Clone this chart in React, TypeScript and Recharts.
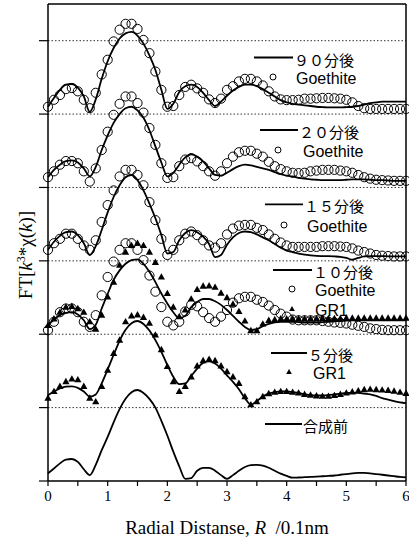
import React from "react";
import { ComposedChart, Line, XAxis, YAxis, ReferenceLine } from "recharts";

// radial distance grid, 0.1 step
const R = Array.from({ length: 61 }, (_, i) => Math.round(i) / 10);

// amplitudes above each curve's own baseline
const fit90 = [0.10, 0.22, 0.33, 0.40, 0.41, 0.36, 0.24, 0.03, 0.20, 0.48, 0.72, 0.90, 1.03, 1.10, 1.12, 1.07, 0.96, 0.80, 0.60, 0.33, 0.07, 0.14, 0.30, 0.38, 0.40, 0.37, 0.29, 0.19, 0.11, 0.17, 0.25, 0.32, 0.37, 0.40, 0.40, 0.38, 0.34, 0.29, 0.24, 0.19, 0.16, 0.14, 0.13, 0.12, 0.11, 0.10, 0.095, 0.09, 0.09, 0.09, 0.095, 0.10, 0.11, 0.13, 0.15, 0.16, 0.17, 0.17, 0.17, 0.17, 0.17];
const goe90 = [0.10, 0.195, 0.26, 0.34, 0.355, 0.31, 0.195, 0.08, 0.29, 0.54, 0.74, 0.99, 1.15, 1.23, 1.23, 1.16, 1.01, 0.83, 0.58, 0.33, 0.10, 0.11, 0.26, 0.37, 0.40, 0.35, 0.29, 0.20, 0.15, 0.21, 0.33, 0.38, 0.445, 0.48, 0.48, 0.445, 0.39, 0.31, 0.24, 0.20, 0.19, 0.19, 0.195, 0.21, 0.21, 0.215, 0.22, 0.22, 0.215, 0.21, 0.195, 0.16, 0.11, 0.08, 0.07, 0.07, 0.07, 0.07, 0.07, 0.07, 0.07];
const fit20 = [0.14, 0.24, 0.31, 0.36, 0.37, 0.34, 0.26, 0.15, 0.28, 0.51, 0.71, 0.88, 1.00, 1.08, 1.10, 1.05, 0.95, 0.78, 0.56, 0.34, 0.15, 0.20, 0.31, 0.41, 0.45, 0.42, 0.355, 0.26, 0.17, 0.16, 0.20, 0.25, 0.29, 0.31, 0.30, 0.28, 0.26, 0.24, 0.21, 0.18, 0.16, 0.15, 0.13, 0.12, 0.11, 0.105, 0.10, 0.10, 0.10, 0.10, 0.105, 0.11, 0.11, 0.11, 0.105, 0.10, 0.10, 0.095, 0.09, 0.09, 0.09];
const goe20 = [0.14, 0.22, 0.31, 0.36, 0.36, 0.33, 0.22, 0.08, 0.26, 0.51, 0.76, 0.99, 1.14, 1.24, 1.24, 1.15, 1.02, 0.81, 0.58, 0.33, 0.13, 0.14, 0.29, 0.38, 0.40, 0.355, 0.29, 0.22, 0.16, 0.22, 0.33, 0.42, 0.48, 0.50, 0.50, 0.46, 0.42, 0.35, 0.29, 0.25, 0.22, 0.20, 0.195, 0.20, 0.22, 0.23, 0.24, 0.24, 0.24, 0.23, 0.22, 0.20, 0.17, 0.14, 0.12, 0.105, 0.10, 0.095, 0.09, 0.09, 0.09];
const fit15 = [0.15, 0.26, 0.34, 0.39, 0.40, 0.35, 0.24, 0.08, 0.20, 0.42, 0.66, 0.87, 1.03, 1.14, 1.17, 1.10, 0.96, 0.78, 0.58, 0.35, 0.10, 0.12, 0.28, 0.38, 0.42, 0.39, 0.33, 0.23, 0.05, 0.08, 0.22, 0.32, 0.38, 0.40, 0.39, 0.36, 0.32, 0.28, 0.23, 0.18, 0.14, 0.12, 0.10, 0.085, 0.075, 0.068, 0.065, 0.063, 0.06, 0.055, 0.04, 0.015, 0.04, 0.06, 0.065, 0.065, 0.065, 0.062, 0.06, 0.06, 0.06];
const goe15 = [0.15, 0.24, 0.30, 0.37, 0.37, 0.30, 0.21, 0.15, 0.28, 0.53, 0.76, 0.96, 1.15, 1.24, 1.24, 1.17, 1.03, 0.80, 0.555, 0.30, 0.08, 0.15, 0.28, 0.37, 0.40, 0.35, 0.28, 0.21, 0.18, 0.24, 0.36, 0.44, 0.48, 0.49, 0.49, 0.45, 0.42, 0.36, 0.30, 0.25, 0.21, 0.19, 0.19, 0.19, 0.19, 0.19, 0.20, 0.20, 0.20, 0.195, 0.19, 0.17, 0.14, 0.12, 0.10, 0.08, 0.07, 0.065, 0.06, 0.06, 0.06];
const fit10 = [0.12, 0.20, 0.26, 0.29, 0.30, 0.27, 0.19, 0.07, 0.13, 0.35, 0.55, 0.74, 0.87, 0.96, 1.01, 1.02, 0.96, 0.85, 0.71, 0.555, 0.42, 0.30, 0.22, 0.25, 0.37, 0.44, 0.48, 0.48, 0.45, 0.40, 0.33, 0.25, 0.17, 0.10, 0.06, 0.07, 0.11, 0.14, 0.16, 0.17, 0.17, 0.17, 0.165, 0.16, 0.16, 0.16, 0.165, 0.17, 0.175, 0.18, 0.185, 0.19, 0.19, 0.19, 0.19, 0.19, 0.19, 0.19, 0.19, 0.19, 0.19];
const goe10 = [0.055, 0.17, 0.30, 0.35, 0.35, 0.30, 0.17, 0.10, 0.26, 0.53, 0.78, 0.99, 1.15, 1.24, 1.24, 1.15, 1.01, 0.80, 0.58, 0.37, 0.17, 0.12, 0.17, 0.31, 0.40, 0.38, 0.30, 0.22, 0.17, 0.24, 0.33, 0.43, 0.49, 0.51, 0.51, 0.47, 0.44, 0.39, 0.33, 0.28, 0.24, 0.20, 0.19, 0.19, 0.19, 0.19, 0.18, 0.17, 0.16, 0.155, 0.146, 0.13, 0.115, 0.10, 0.08, 0.07, 0.06, 0.055, 0.055, 0.055, 0.055];
const gr10 = [0.12, 0.21, 0.30, 0.37, 0.38, 0.35, 0.30, 0.17, 0.07, 0.26, 0.51, 0.71, 0.94, 1.12, 1.21, 1.24, 1.21, 1.12, 0.98, 0.78, 0.555, 0.37, 0.24, 0.33, 0.48, 0.61, 0.655, 0.66, 0.64, 0.56, 0.50, 0.41, 0.31, 0.18, 0.05, 0.05, 0.14, 0.19, 0.20, 0.21, 0.21, 0.21, 0.21, 0.21, 0.21, 0.21, 0.215, 0.215, 0.215, 0.215, 0.22, 0.22, 0.22, 0.22, 0.22, 0.22, 0.22, 0.22, 0.22, 0.22, 0.22];
const fit5 = [0.17, 0.22, 0.26, 0.285, 0.29, 0.27, 0.22, 0.15, 0.18, 0.33, 0.52, 0.72, 0.91, 1.06, 1.15, 1.18, 1.14, 1.05, 0.92, 0.76, 0.58, 0.42, 0.32, 0.33, 0.43, 0.53, 0.61, 0.63, 0.60, 0.53, 0.44, 0.35, 0.25, 0.13, 0.04, 0.09, 0.15, 0.19, 0.21, 0.22, 0.22, 0.21, 0.20, 0.18, 0.17, 0.165, 0.165, 0.17, 0.18, 0.19, 0.20, 0.20, 0.20, 0.19, 0.18, 0.16, 0.13, 0.11, 0.09, 0.07, 0.06];
const gr5 = [0.13, 0.22, 0.29, 0.355, 0.39, 0.38, 0.29, 0.13, 0.08, 0.29, 0.51, 0.74, 0.92, 1.17, 1.25, 1.265, 1.23, 1.15, 0.99, 0.79, 0.56, 0.355, 0.22, 0.29, 0.42, 0.57, 0.64, 0.66, 0.64, 0.57, 0.49, 0.42, 0.33, 0.15, 0.04, 0.08, 0.15, 0.19, 0.21, 0.22, 0.22, 0.21, 0.20, 0.18, 0.17, 0.16, 0.155, 0.155, 0.165, 0.18, 0.20, 0.215, 0.23, 0.245, 0.25, 0.245, 0.24, 0.235, 0.225, 0.21, 0.195];
const base = [0.105, 0.17, 0.24, 0.29, 0.30, 0.26, 0.16, 0.08, 0.22, 0.42, 0.60, 0.80, 0.98, 1.12, 1.21, 1.24, 1.20, 1.12, 1.00, 0.82, 0.62, 0.40, 0.20, 0.03, 0.04, 0.14, 0.18, 0.18, 0.14, 0.08, 0.03, 0.08, 0.14, 0.19, 0.215, 0.22, 0.21, 0.18, 0.14, 0.10, 0.07, 0.045, 0.048, 0.052, 0.056, 0.06, 0.065, 0.07, 0.075, 0.085, 0.095, 0.105, 0.11, 0.11, 0.105, 0.095, 0.085, 0.075, 0.065, 0.055, 0.05];

// vertical offset of each curve
const OFFSET = { p90: 5, p20: 4, p15: 3, p10: 2, p5: 1, p0: 0 };

const xTicks = [0, 0.5, 1, 1.5, 2, 2.5, 3, 3.5, 4, 4.5, 5, 5.5, 6];
const yTicks = [0, 1, 2, 3, 4, 5, 6];

const rows = R.map((r, i) => ({
  r: Number(r.toFixed(1)),
  fit90: fit90[i] + OFFSET.p90,
  goe90: goe90[i] + OFFSET.p90,
  fit20: fit20[i] + OFFSET.p20,
  goe20: goe20[i] + OFFSET.p20,
  fit15: fit15[i] + OFFSET.p15,
  goe15: goe15[i] + OFFSET.p15,
  fit10: fit10[i] + OFFSET.p10,
  goe10: goe10[i] + OFFSET.p10,
  gr10: gr10[i] + OFFSET.p10,
  fit5: fit5[i] + OFFSET.p5,
  gr5: gr5[i] + OFFSET.p5,
  base: base[i] + OFFSET.p0,
}));

const circleDot = (name: string) => (p: any) => (
  <circle key={`${name}-${p.index}`} cx={p.cx} cy={p.cy} r={4.6} fill="none" stroke="#000" strokeWidth={1} />
);

const triDot = (name: string) => (p: any) => (
  <polygon
    key={`${name}-${p.index}`}
    points={`${p.cx},${p.cy - 3.8} ${p.cx + 3.6},${p.cy + 2.6} ${p.cx - 3.6},${p.cy + 2.6}`}
    fill="#000"
  />
);

const fits = ["fit90", "fit20", "fit15", "fit10", "fit5", "base"];
const circles = ["goe90", "goe20", "goe15", "goe10"];
const triangles = ["gr10", "gr5"];

const jp = "'Noto Sans CJK JP', sans-serif";
const sans = "'Liberation Sans', Arial, sans-serif";
const serif = "'Liberation Serif', 'Times New Roman', serif";

function LegendLine({ x1, x2, y, label }: { x1: number; x2: number; y: number; label: string }) {
  return (
    <g>
      <line x1={x1} x2={x2} y1={y} y2={y} stroke="#000" strokeWidth={1.8} />
      <text x={x2 + 1} y={y + 1.5} dominantBaseline="central" fontFamily={jp} fontSize={15} fill="#000">
        {label}
      </text>
    </g>
  );
}

function LegendMark({ x, y, tx, kind, label }: { x: number; y: number; tx: number; kind: string; label: string }) {
  return (
    <g>
      {kind === "circle" ? (
        <circle cx={x} cy={y} r={3} fill="none" stroke="#000" strokeWidth={1} />
      ) : (
        <polygon points={`${x},${y - 3} ${x + 2.8},${y + 2} ${x - 2.8},${y + 2}`} fill="#000" />
      )}
      <text x={tx} y={y + 1} dominantBaseline="central" fontFamily={sans} fontSize={16} fill="#000">
        {label}
      </text>
    </g>
  );
}

export default function App() {
  return (
    <div style={{ position: "absolute", left: 0, top: 0, width: 409, height: 538, background: "#fff" }}>
      <ComposedChart width={409} height={538} data={rows} margin={{ top: 4, right: 3, bottom: 0, left: 0 }}>
        <XAxis
          type="number"
          dataKey="r"
          domain={[0, 6]}
          ticks={xTicks}
          interval={0}
          height={57}
          tickSize={5}
          tickMargin={4}
          tickFormatter={(v: number) => (Number.isInteger(v) ? String(v) : "")}
          tick={{ fontFamily: serif, fontSize: 15, fill: "#000" }}
          axisLine={{ stroke: "#000", strokeWidth: 1.5 }}
          tickLine={{ stroke: "#000", strokeWidth: 1.2 }}
        />
        <YAxis
          type="number"
          domain={[0, 6.5]}
          ticks={yTicks}
          width={48}
          tickSize={9}
          tickFormatter={() => ""}
          axisLine={{ stroke: "#000", strokeWidth: 1.5 }}
          tickLine={{ stroke: "#000", strokeWidth: 1.2 }}
        />
        {yTicks.slice(1).map((t) => (
          <ReferenceLine key={t} y={t} stroke="#333" strokeWidth={1} strokeDasharray="1.5 2" />
        ))}
        <ReferenceLine y={6.5} stroke="#000" strokeWidth={1.5} />
        <ReferenceLine x={6} stroke="#000" strokeWidth={1.5} />
        {circles.map((k) => (
          <Line key={k} dataKey={k} stroke="none" dot={circleDot(k)} activeDot={false} isAnimationActive={false} />
        ))}
        {triangles.map((k) => (
          <Line key={k} dataKey={k} stroke="none" dot={triDot(k)} activeDot={false} isAnimationActive={false} />
        ))}
        {fits.map((k) => (
          <Line key={k} type="monotone" dataKey={k} stroke="#000" strokeWidth={1.8} dot={false} activeDot={false} isAnimationActive={false} />
        ))}
      </ComposedChart>
      <svg width={409} height={538} style={{ position: "absolute", left: 0, top: 0, pointerEvents: "none" }}>
        <LegendLine x1={254} x2={293} y={57.5} label="９０分後" />
        <LegendMark x={273} y={77} tx={296} kind="circle" label="Goethite" />
        <LegendLine x1={260} x2={298} y={130} label="２０分後" />
        <LegendMark x={278} y={150} tx={303} kind="circle" label="Goethite" />
        <LegendLine x1={265} x2={303} y={204.3} label="１５分後" />
        <LegendMark x={284} y={225} tx={307} kind="circle" label="Goethite" />
        <LegendLine x1={273} x2={312} y={270} label="１０分後" />
        <LegendMark x={292} y={289} tx={315} kind="circle" label="Goethite" />
        <LegendMark x={292} y={309} tx={315} kind="triangle" label="GR1" />
        <LegendLine x1={271} x2={307} y={353} label="５分後" />
        <LegendMark x={289} y={372} tx={313} kind="triangle" label="GR1" />
        <LegendLine x1={265} x2={302} y={424} label="合成前" />
        <text transform="translate(32,255) rotate(-90)" textAnchor="middle" fontFamily={serif} fontSize={19} fill="#000">
          FT[<tspan fontStyle="italic">k</tspan>
          <tspan dy={-7} fontSize={12}>3</tspan>
          <tspan dy={7}>*χ(</tspan>
          <tspan fontStyle="italic">k</tspan>)]
        </text>
        <text x={227} y={534} textAnchor="middle" fontFamily={serif} fontSize={19} fill="#000">
          Radial Distanse, <tspan fontStyle="italic">R</tspan>{"\u00a0 /0.1nm"}
        </text>
      </svg>
    </div>
  );
}
